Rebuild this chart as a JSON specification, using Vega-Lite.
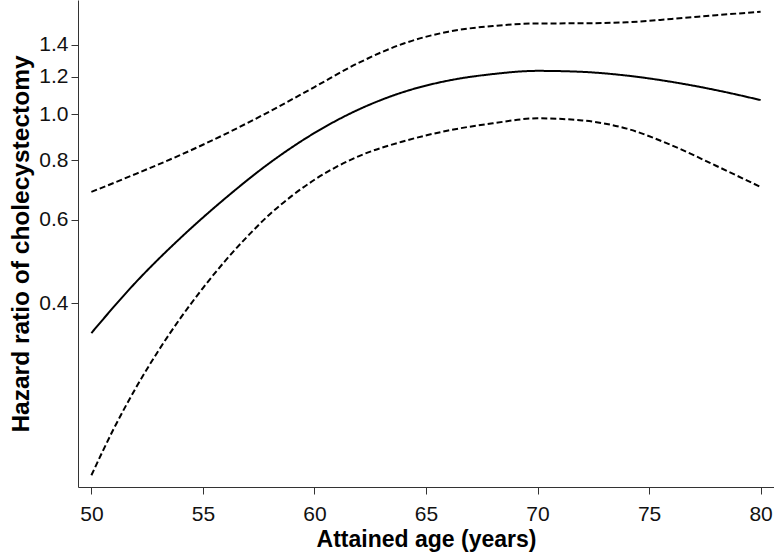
{
  "$schema": "https://vega.github.io/schema/vega-lite/v6.json",
  "width": 696,
  "height": 487,
  "autosize": {"type": "none"},
  "padding": {"left": 78, "top": 0, "right": 0, "bottom": 69},
  "background": "white",
  "config": {
    "view": {"stroke": null},
    "font": "Liberation Sans",
    "axis": {
      "grid": false,
      "domainColor": "#333333",
      "tickColor": "#333333",
      "tickSize": 7,
      "labelFont": "Liberation Sans",
      "labelFontSize": 21,
      "labelColor": "#111111",
      "titleFont": "Liberation Sans",
      "titleFontWeight": "bold",
      "titleColor": "#000000"
    }
  },
  "data": {
    "values": [
      {"age": 50, "hr": 0.346, "series": "estimate"},
      {"age": 52, "hr": 0.443, "series": "estimate"},
      {"age": 54, "hr": 0.549, "series": "estimate"},
      {"age": 56, "hr": 0.665, "series": "estimate"},
      {"age": 58, "hr": 0.790, "series": "estimate"},
      {"age": 60, "hr": 0.913, "series": "estimate"},
      {"age": 62, "hr": 1.024, "series": "estimate"},
      {"age": 64, "hr": 1.114, "series": "estimate"},
      {"age": 66, "hr": 1.177, "series": "estimate"},
      {"age": 68, "hr": 1.215, "series": "estimate"},
      {"age": 70, "hr": 1.234, "series": "estimate"},
      {"age": 72, "hr": 1.228, "series": "estimate"},
      {"age": 74, "hr": 1.206, "series": "estimate"},
      {"age": 76, "hr": 1.170, "series": "estimate"},
      {"age": 78, "hr": 1.124, "series": "estimate"},
      {"age": 80, "hr": 1.071, "series": "estimate"},
      {"age": 50, "hr": 0.686, "series": "upper"},
      {"age": 52, "hr": 0.749, "series": "upper"},
      {"age": 54, "hr": 0.821, "series": "upper"},
      {"age": 56, "hr": 0.908, "series": "upper"},
      {"age": 58, "hr": 1.014, "series": "upper"},
      {"age": 60, "hr": 1.141, "series": "upper"},
      {"age": 62, "hr": 1.284, "series": "upper"},
      {"age": 64, "hr": 1.409, "series": "upper"},
      {"age": 66, "hr": 1.492, "series": "upper"},
      {"age": 68, "hr": 1.534, "series": "upper"},
      {"age": 70, "hr": 1.553, "series": "upper"},
      {"age": 72, "hr": 1.554, "series": "upper"},
      {"age": 74, "hr": 1.562, "series": "upper"},
      {"age": 76, "hr": 1.587, "series": "upper"},
      {"age": 78, "hr": 1.616, "series": "upper"},
      {"age": 80, "hr": 1.644, "series": "upper"},
      {"age": 50, "hr": 0.1736, "series": "lower"},
      {"age": 51, "hr": 0.2174, "series": "lower"},
      {"age": 52, "hr": 0.2655, "series": "lower"},
      {"age": 53, "hr": 0.3173, "series": "lower"},
      {"age": 54, "hr": 0.3723, "series": "lower"},
      {"age": 55, "hr": 0.4304, "series": "lower"},
      {"age": 56, "hr": 0.4912, "series": "lower"},
      {"age": 57, "hr": 0.5532, "series": "lower"},
      {"age": 58, "hr": 0.6157, "series": "lower"},
      {"age": 59, "hr": 0.6737, "series": "lower"},
      {"age": 60, "hr": 0.7276, "series": "lower"},
      {"age": 62, "hr": 0.8163, "series": "lower"},
      {"age": 64, "hr": 0.8772, "series": "lower"},
      {"age": 66, "hr": 0.9240, "series": "lower"},
      {"age": 68, "hr": 0.9570, "series": "lower"},
      {"age": 70, "hr": 0.9802, "series": "lower"},
      {"age": 72, "hr": 0.9704, "series": "lower"},
      {"age": 74, "hr": 0.9324, "series": "lower"},
      {"age": 76, "hr": 0.8607, "series": "lower"},
      {"age": 78, "hr": 0.7788, "series": "lower"},
      {"age": 80, "hr": 0.7026, "series": "lower"}
    ]
  },
  "mark": {"type": "line", "color": "#000000", "strokeWidth": 2, "interpolate": "monotone"},
  "encoding": {
    "x": {
      "field": "age",
      "type": "quantitative",
      "scale": {"domain": [49.4, 80.6], "nice": false, "zero": false},
      "axis": {"values": [50, 55, 60, 65, 70, 75, 80], "title": "Attained age (years)", "titleFontSize": 23, "labelPadding": 9, "titlePadding": 4}
    },
    "y": {
      "field": "hr",
      "type": "quantitative",
      "scale": {"type": "log", "domain": [0.164, 1.74], "nice": false},
      "axis": {"values": [0.4, 0.6, 0.8, 1.0, 1.2, 1.4], "format": ".1f", "title": "Hazard ratio of cholecystectomy", "titleFontSize": 24.5, "labelPadding": 3, "titlePadding": 5}
    },
    "detail": {"field": "series"},
    "strokeDash": {
      "field": "series",
      "type": "nominal",
      "scale": {"domain": ["estimate", "lower", "upper"], "range": [[1, 0], [6, 3], [6, 3]]},
      "legend": null
    }
  }
}
